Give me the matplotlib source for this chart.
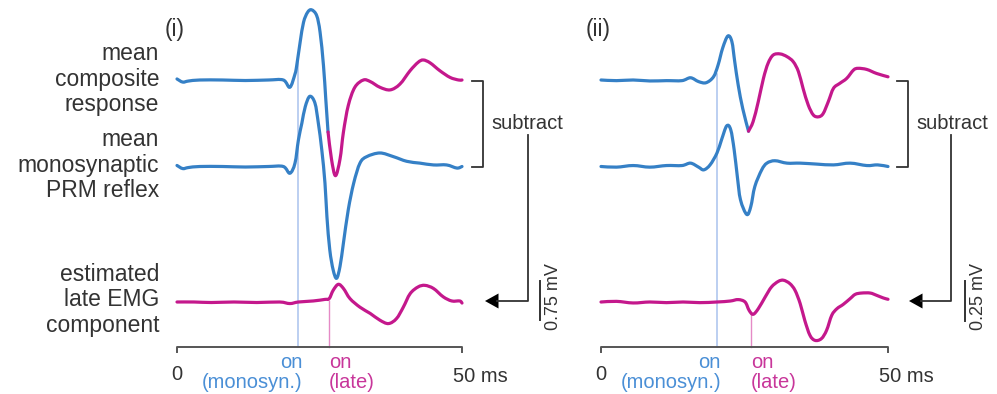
import matplotlib.pyplot as plt
import numpy as np
from matplotlib.path import Path
from matplotlib.patches import PathPatch

plt.rcParams['font.family'] = ['Liberation Sans', 'DejaVu Sans']

BLUE = '#3580c6'
PINK = '#c4188c'
TXT = '#333333'

# ---- panel (i) data: time in ms, amplitude in mV ----
t_comp1 = [0, 1, 2, 4, 8, 12, 16, 18.65, 19.8, 20.7, 21.0, 21.6, 22.2, 22.9, 23.6, 24.5,
           25.1, 25.7, 26.1, 26.5]
v_comp1 = [0.02, -0.04, -0.02, 0, 0, -0.01, 0, 0, -0.14, 0.115, 0.275, 0.725, 1.11, 1.30, 1.35,
           1.24, 0.92, 0.275, -0.365, -1.0]
t_comp1_late = [26.5, 27.1, 27.8, 28.6, 29.2, 30.05, 31.2, 32.7, 33.9, 35.6, 37.4, 39.1, 40.9,
                42.3, 43.2, 44.4, 46.1, 47.9, 49.4, 50]
v_comp1_late = [-1.0, -1.52, -1.84, -1.52, -1.0, -0.49, -0.14, 0, -0.03, -0.14, -0.19, -0.08,
                0.18, 0.34, 0.385, 0.33, 0.18, 0.05, 0, 0]

t_mono1 = [0, 1, 2, 4, 8, 12, 16, 18.65, 19.8, 20.7, 21.3, 21.9, 22.5, 23.3, 24.2, 24.8, 25.4,
           25.96, 26.3, 26.8, 27.4, 28.0, 28.6, 29.2, 30.05, 31.0, 32.1, 33.3, 35.6, 37.95,
           40.3, 42.6, 45.0, 47.3, 49.1, 50]
v_mono1 = [0.02, -0.04, -0.02, 0, 0, -0.01, 0, 0, -0.13, 0.065, 0.51, 0.83, 1.15, 1.35, 1.22,
           0.83, 0.32, -0.32, -0.96, -1.60, -1.99, -2.15, -1.92, -1.47, -0.83, -0.32, 0.065,
           0.19, 0.26, 0.19, 0.10, 0.065, 0.03, 0.03, -0.03, 0]

t_late1 = [0, 3, 6, 10, 14, 18, 19.8, 21.3, 23.9, 25.96, 26.7, 27.4, 28.3, 29.2, 30.35, 32.1,
           33.9, 35.6, 37.1, 38.5, 39.7, 40.9, 42.3, 43.5, 45.0, 46.7, 48.2, 49.6, 50]
v_late1 = [0, 0, -0.01, 0, -0.01, 0, -0.03, 0, 0.02, 0.05, 0.065, 0.225, 0.34, 0.26, 0.065,
           -0.10, -0.22, -0.35, -0.415, -0.32, -0.10, 0.16, 0.29, 0.32, 0.26, 0.10, 0.02,
           0.02, -0.02]

# ---- panel (ii) data ----
t_comp2 = [0, 2.7, 5.6, 8.5, 11.4, 14.1, 15.6, 17.0, 18.3, 19.6, 20.4, 21.2, 22.1, 22.8, 23.3,
           23.9, 24.7, 25.7]
v_comp2 = [0, -0.004, 0, -0.006, -0.004, -0.004, 0.014, -0.01, -0.017, 0.02, 0.094, 0.2,
           0.275, 0.24, 0.114, -0.031, -0.18, -0.32]
t_comp2_late = [25.7, 26.5, 27.4, 28.3, 29.1, 30.0, 31.2, 32.4, 33.5, 34.4, 35.2, 36.1, 37.0,
                37.9, 38.7, 39.6, 40.5, 41.6, 42.8, 44.0, 44.8, 46.3, 48.0, 50]
v_comp2_late = [-0.32, -0.26, -0.135, 0.01, 0.104, 0.156, 0.163, 0.146, 0.114, 0.052, -0.052,
                -0.156, -0.219, -0.23, -0.21, -0.135, -0.052, -0.021, 0.01, 0.0625, 0.073,
                0.066, 0.041, 0.02]

t_mono2 = [0, 2.7, 5.6, 8.5, 11.4, 14.1, 15.6, 17.0, 17.9, 19.0, 20.2, 21.0, 21.9, 22.6, 23.2,
           23.75, 24.3, 25.4, 26.1, 26.8, 28.0, 28.9, 30.3, 32.4, 34.7, 37.6, 40.5, 43.4,
           46.3, 48.2, 50]
v_mono2 = [0, -0.004, 0.006, -0.004, 0.006, 0.006, 0.021, -0.004, -0.021, 0.01, 0.084, 0.167,
           0.254, 0.23, 0.104, -0.0625, -0.208, -0.30, -0.25, -0.125, -0.021, 0.021, 0.036,
           0.021, 0.021, 0.015, 0.01, 0.021, 0.006, 0.01, 0]

t_late2 = [0, 2.7, 5.6, 8.5, 11.4, 14.3, 17.2, 20.2, 22.5, 23.9, 25.1, 25.8, 26.5, 27.4, 28.6,
           29.7, 30.9, 31.8, 32.9, 33.8, 34.7, 35.5, 36.4, 37.3, 38.4, 39.3, 40.2, 41.1,
           42.2, 43.4, 44.3, 45.4, 46.9, 48.0, 49.2, 50]
v_late2 = [0, 0.004, -0.006, 0, -0.004, 0, -0.004, 0, 0.006, 0.015, 0, -0.052, -0.077, -0.042,
           0.031, 0.094, 0.129, 0.136, 0.115, 0.073, -0.01, -0.115, -0.208, -0.24, -0.229,
           -0.177, -0.083, -0.042, -0.015, 0.021, 0.048, 0.056, 0.056, 0.042, 0.025, 0.017]

onsets1 = (21.3, 26.7)     # monosynaptic, late (ms)
onsets2 = (20.2, 26.1)
scale1 = 0.75              # mV
scale2 = 0.25

W, H = 997, 394
fig = plt.figure(figsize=(W / 100, H / 100), dpi=100)

# overlay in pixel coordinates for labels and brackets
ax0 = fig.add_axes([0, 0, 1, 1])
ax0.set_xlim(0, W)
ax0.set_ylim(H, 0)
ax0.axis('off')


def smooth_line(ax, t, v, off, color, lw=2.3):
    # draw the read points as a Catmull-Rom curve (bezier segments through every point)
    p = np.column_stack([t, np.asarray(v) + off])
    ext = np.vstack([p[0], p, p[-1]])
    verts = [p[0]]
    codes = [Path.MOVETO]
    for i in range(1, len(ext) - 2):
        c1 = ext[i] + (ext[i + 1] - ext[i - 1]) / 6
        c2 = ext[i + 1] - (ext[i + 2] - ext[i]) / 6
        verts += [c1, c2, ext[i + 1]]
        codes += [Path.CURVE4] * 3
    ax.add_patch(PathPatch(Path(verts, codes), facecolor='none', edgecolor=color, lw=lw,
                           capstyle='round', joinstyle='round'))


def panel(x0, px_ms, px_mv, comp, comp_late, mono, late, onsets):
    # baselines (pixel rows) of the three traces
    y_comp, y_mono, y_late = 80, 166.5, 302
    ax = fig.add_axes([0, 0, 1, 1])
    ax.set_xlim(-x0 / px_ms, (W - x0) / px_ms)
    ax.set_ylim((y_late - H) / px_mv, y_late / px_mv)
    ax.axis('off')
    off_c = (y_late - y_comp) / px_mv
    off_m = (y_late - y_mono) / px_mv
    smooth_line(ax, comp[0], comp[1], off_c, BLUE)
    smooth_line(ax, comp_late[0], comp_late[1], off_c, PINK)
    smooth_line(ax, mono[0], mono[1], off_m, BLUE)
    smooth_line(ax, late[0], late[1], 0, PINK)

    y_axis = (y_late - 347) / px_mv
    tick = 5 / px_mv
    # onset lines
    t_on, t_late = onsets
    ax.plot([t_on, t_on], [y_axis, np.interp(t_on, comp[0], comp[1]) + off_c - 6 / px_mv],
            color='#a9c2ee', lw=1.1, zorder=0)
    ax.plot([t_late, t_late], [y_axis, np.interp(t_late, late[0], late[1]) - 2 / px_mv],
            color='#e58ac6', lw=1.0, zorder=0)
    # time axis
    ax.plot([0, 0, 50, 50], [y_axis - tick, y_axis, y_axis, y_axis - tick],
            color='#555555', lw=1.4)
    return ax


fs_lab = 16.5
fs_small = 14.5


def left_label(lines, yc, x_right=159):
    n = len(lines)
    for i, s in enumerate(lines):
        ax0.text(x_right, yc + (i - (n - 1) / 2) * 25.5, s, ha='right', va='center',
                 fontsize=fs_lab, color=TXT)


left_label(['mean', 'composite', 'response'], 79)
left_label(['mean', 'monosynaptic', 'PRM reflex'], 165)
left_label(['estimated', 'late EMG', 'component'], 300)

ax1 = panel(177, 5.7, 52, (t_comp1, v_comp1), (t_comp1_late, v_comp1_late),
            (t_mono1, v_mono1), (t_late1, v_late1), onsets1)
ax2 = panel(601, 5.74, 160, (t_comp2, v_comp2), (t_comp2_late, v_comp2_late),
            (t_mono2, v_mono2), (t_late2, v_late2), onsets2)

# scale bars drawn in each panel's data units
for ax, x_px, x0, pms, sc in [(ax1, 540, 177, 5.7, scale1), (ax2, 965, 601, 5.74, scale2)]:
    tb = (x_px - x0) / pms
    ax.plot([tb, tb], [-sc / 2 + 0.03 * sc, sc / 2 + 0.03 * sc], color=TXT, lw=1.4)

ax0.text(553, 297, '0.75 mV', rotation=90, ha='center', va='center', fontsize=13, color=TXT)
ax0.text(978, 297, '0.25 mV', rotation=90, ha='center', va='center', fontsize=13, color=TXT)

# panel tags
ax0.text(165, 29, '(i)', ha='left', va='center', fontsize=fs_lab, color=TXT)
ax0.text(586, 29, '(ii)', ha='left', va='center', fontsize=fs_lab, color=TXT)

# time labels
for x0, pms, (t_on, t_late) in [(177, 5.7, onsets1), (601, 5.74, onsets2)]:
    ax0.text(x0, 375, '0', ha='center', va='center', fontsize=fs_small, color=TXT)
    ax0.text(x0 + 50 * pms - 9, 376, '50 ms', ha='left', va='center', fontsize=fs_small,
             color=TXT)
    xm = x0 + t_on * pms + 4
    xl = x0 + t_late * pms
    ax0.text(xm, 363, 'on', ha='right', va='center', fontsize=fs_small, color='#4a8fd6')
    ax0.text(xm, 383, '(monosyn.)', ha='right', va='center', fontsize=fs_small,
             color='#4a8fd6')
    ax0.text(xl, 363, 'on', ha='left', va='center', fontsize=fs_small, color='#c8369a')
    ax0.text(xl, 383, '(late)', ha='left', va='center', fontsize=fs_small, color='#c8369a')

# brackets and subtraction arrows
for xb, xt, xa, xtip in [(483, 491, 528, 485), (908, 916, 951, 909)]:
    ax0.plot([xb - 11.5, xb, xb, xb - 11.5], [81, 81, 166.5, 166.5], color=TXT, lw=1.3)
    ax0.text(xt, 123, 'subtract', ha='left', va='center', fontsize=fs_small, color=TXT)
    ax0.plot([xa, xa, xtip + 12], [135, 301, 301], color=TXT, lw=1.3)
    ax0.fill([xtip, xtip + 13.5, xtip + 13.5], [301, 293.5, 308.5], color='black', lw=0)

fig.savefig('out.png', dpi=100)
